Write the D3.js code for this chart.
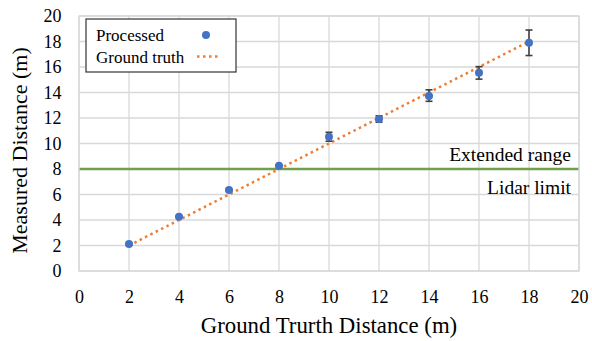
<!DOCTYPE html>
<html>
<head>
<meta charset="utf-8">
<script src="https://cdn.jsdelivr.net/npm/d3@7"></script>
<style>
  html, body { margin: 0; padding: 0; background: #fff; }
</style>
</head>
<body>
<svg id="chart" width="592" height="341"></svg>
<script>
// ---- data ----
const groundTruth = [2, 4, 6, 8, 10, 12, 14, 16, 18];
const processed   = [2.12, 4.26, 6.35, 8.25, 10.53, 11.92, 13.73, 15.55, 17.9];
const errLow      = [0.05, 0.05, 0.05, 0.05, 0.35, 0.25, 0.42, 0.5, 1.0];
const errHigh     = [0.05, 0.05, 0.05, 0.05, 0.35, 0.25, 0.48, 0.48, 1.0];
const xTicks = [0, 2, 4, 6, 8, 10, 12, 14, 16, 18, 20];
const yTicks = [0, 2, 4, 6, 8, 10, 12, 14, 16, 18, 20];
const lidarLimit = 8;
const seriesNames = ["Processed", "Ground truth"];
const xTitle = "Ground Trurth Distance (m)";
const yTitle = "Measured Distance (m)";
const rangeLabels = ["Extended range", "Lidar limit"];

// ---- layout ----
const FONT = '"Liberation Serif"';
const svg = d3.select("#chart");
const m = { left: 79, right: 579, top: 16, bottom: 271 };
const x = d3.scaleLinear().domain([0, 20]).range([m.left, m.right]);
const y = d3.scaleLinear().domain([0, 20]).range([m.bottom, m.top]);

const gridColor = "#d9d9d9";

// grid
svg.append("g").selectAll("line").data(xTicks).join("line")
  .attr("x1", d => x(d)).attr("x2", d => x(d))
  .attr("y1", m.top).attr("y2", m.bottom)
  .attr("stroke", gridColor).attr("stroke-width", 1.3);
svg.append("g").selectAll("line").data(yTicks).join("line")
  .attr("x1", m.left).attr("x2", m.right)
  .attr("y1", d => y(d)).attr("y2", d => y(d))
  .attr("stroke", gridColor).attr("stroke-width", 1.3);

// axes (labels only)
const xAxis = d3.axisBottom(x).tickValues(xTicks).tickSize(0).tickPadding(0);
const gx = svg.append("g").attr("transform", `translate(0,${m.bottom})`).call(xAxis);
gx.attr("font-family", null).attr("font-size", null);
gx.select(".domain").remove();
gx.selectAll("text").attr("dy", null).attr("y", 32)
  .style("font-size", "18px").style("font-family", FONT).attr("fill", "#000");

const yAxis = d3.axisLeft(y).tickValues(yTicks).tickSize(0).tickPadding(0);
const gy = svg.append("g").attr("transform", `translate(${m.left},0)`).call(yAxis);
gy.attr("font-family", null).attr("font-size", null);
gy.select(".domain").remove();
gy.selectAll("text").attr("x", -17.5).attr("dy", "0.33em")
  .style("font-size", "18px").style("font-family", FONT).attr("fill", "#000");

// titles
svg.append("text").attr("x", (m.left + m.right) / 2).attr("y", 333)
  .attr("text-anchor", "middle").style("font-family", FONT).style("font-size", "22.8px").text(xTitle);
svg.append("text")
  .attr("transform", `translate(27,${(m.top + m.bottom) / 2 + 7}) rotate(-90)`)
  .attr("text-anchor", "middle").style("font-family", FONT).style("font-size", "22px").text(yTitle);

// lidar limit line
svg.append("line")
  .attr("x1", m.left).attr("x2", m.right)
  .attr("y1", y(lidarLimit)).attr("y2", y(lidarLimit))
  .attr("stroke", "#70a04a").attr("stroke-width", 2.5);
svg.append("text").attr("x", 571).attr("y", y(lidarLimit) - 8)
  .attr("text-anchor", "end").style("font-family", FONT).style("font-size", "19.5px").text(rangeLabels[0]);
svg.append("text").attr("x", 571).attr("y", y(lidarLimit) + 25)
  .attr("text-anchor", "end").style("font-family", FONT).style("font-size", "19.5px").text(rangeLabels[1]);

// ground truth dotted line
const line = d3.line().x(d => x(d)).y(d => y(d));
svg.append("path").datum([groundTruth[0], groundTruth[groundTruth.length - 1]])
  .attr("d", line).attr("fill", "none")
  .attr("stroke", "#ed7d31").attr("stroke-width", 2.5)
  .attr("stroke-dasharray", "2.5,3.5");

// error bars
const eb = svg.append("g").attr("stroke", "#404040").attr("stroke-width", 1.6);
groundTruth.forEach((g, i) => {
  const yt = y(processed[i] + errHigh[i]), yb = y(processed[i] - errLow[i]);
  eb.append("line").attr("x1", x(g)).attr("x2", x(g)).attr("y1", yt).attr("y2", yb);
  eb.append("line").attr("x1", x(g) - 3.5).attr("x2", x(g) + 3.5).attr("y1", yt).attr("y2", yt);
  eb.append("line").attr("x1", x(g) - 3.5).attr("x2", x(g) + 3.5).attr("y1", yb).attr("y2", yb);
});

// points
svg.append("g").selectAll("circle").data(groundTruth).join("circle")
  .attr("cx", d => x(d)).attr("cy", (d, i) => y(processed[i]))
  .attr("r", 4).attr("fill", "#4472c4");

// plot border
svg.append("rect").attr("x", m.left).attr("y", m.top)
  .attr("width", m.right - m.left).attr("height", m.bottom - m.top)
  .attr("fill", "none").attr("stroke", gridColor).attr("stroke-width", 1.3);

// legend
const lg = svg.append("g");
lg.append("rect").attr("x", 86).attr("y", 19).attr("width", 150).attr("height", 53)
  .attr("fill", "#fff").attr("stroke", "#333").attr("stroke-width", 1.2);
lg.append("text").attr("x", 96).attr("y", 41).style("font-family", FONT).style("font-size", "17px").text(seriesNames[0]);
lg.append("text").attr("x", 96).attr("y", 62.5).style("font-family", FONT).style("font-size", "17px").text(seriesNames[1]);
lg.append("circle").attr("cx", 206).attr("cy", 35).attr("r", 4).attr("fill", "#4472c4");
lg.append("line").attr("x1", 197).attr("x2", 221).attr("y1", 56.5).attr("y2", 56.5)
  .attr("stroke", "#ed7d31").attr("stroke-width", 2.5).attr("stroke-dasharray", "2.5,3.5");
</script>
</body>
</html>
